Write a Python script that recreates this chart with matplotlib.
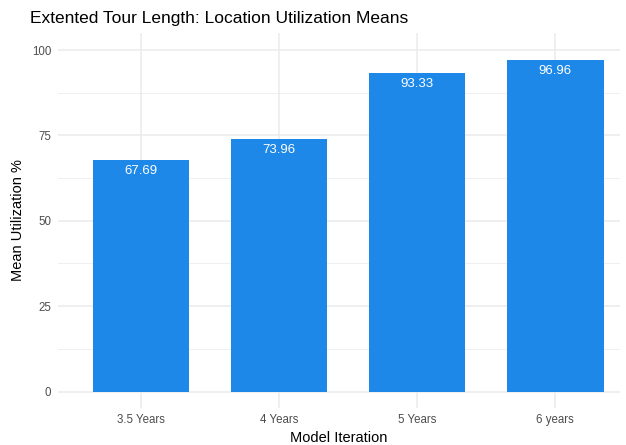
import matplotlib
matplotlib.use("Agg")
import matplotlib.pyplot as plt
import numpy as np

plt.rcParams['font.family'] = ['Liberation Sans', 'DejaVu Sans']

# data
iterations = ['3.5 Years', '4 Years', '5 Years', '6 years']
mean_util = [67.69, 73.96, 93.33, 96.96]
y_ticks = [0, 25, 50, 75, 100]

bar_color = '#1E88E8'
grid_color = '#EBEBEB'
tick_color = '#4D4D4D'

fig = plt.figure(figsize=(6.26, 4.45), dpi=100)
ax = fig.add_axes([0.0927, 0.083, 0.898, 0.843])

x = np.arange(1, len(iterations) + 1)
ax.bar(x, mean_util, width=0.7, color=bar_color, zorder=3)
for xi, v in zip(x, mean_util):
    ax.annotate(f"{v:.2f}", (xi, v), xytext=(0, -3.5), textcoords='offset points',
                ha='center', va='top', color='white', fontsize=9.5, zorder=4)

ax.set_xlim(0.4, 4.47)
ax.set_ylim(-4.85, 105)
ax.set_xticks(x)
ax.set_xticklabels(iterations)
ax.set_yticks(y_ticks)
ax.set_yticks([12.5, 37.5, 62.5, 87.5], minor=True)

ax.grid(True, which='major', color=grid_color, linewidth=1.1, zorder=0)
ax.grid(True, which='minor', axis='y', color=grid_color, linewidth=0.55, zorder=0)
for s in ax.spines.values():
    s.set_visible(False)
ax.tick_params(which='both', length=0, colors=tick_color, labelsize=8.3)
ax.tick_params(axis='y', pad=5)
ax.tick_params(axis='x', pad=4)

ax.set_xlabel('Model Iteration', fontsize=10.5, labelpad=4)
ax.set_ylabel('Mean Utilization %', fontsize=10.5, labelpad=5)
fig.text(0.048, 0.958, 'Extented Tour Length: Location Utilization Means',
         fontsize=12.5, ha='left', va='center')

fig.savefig('out.png', dpi=100)
